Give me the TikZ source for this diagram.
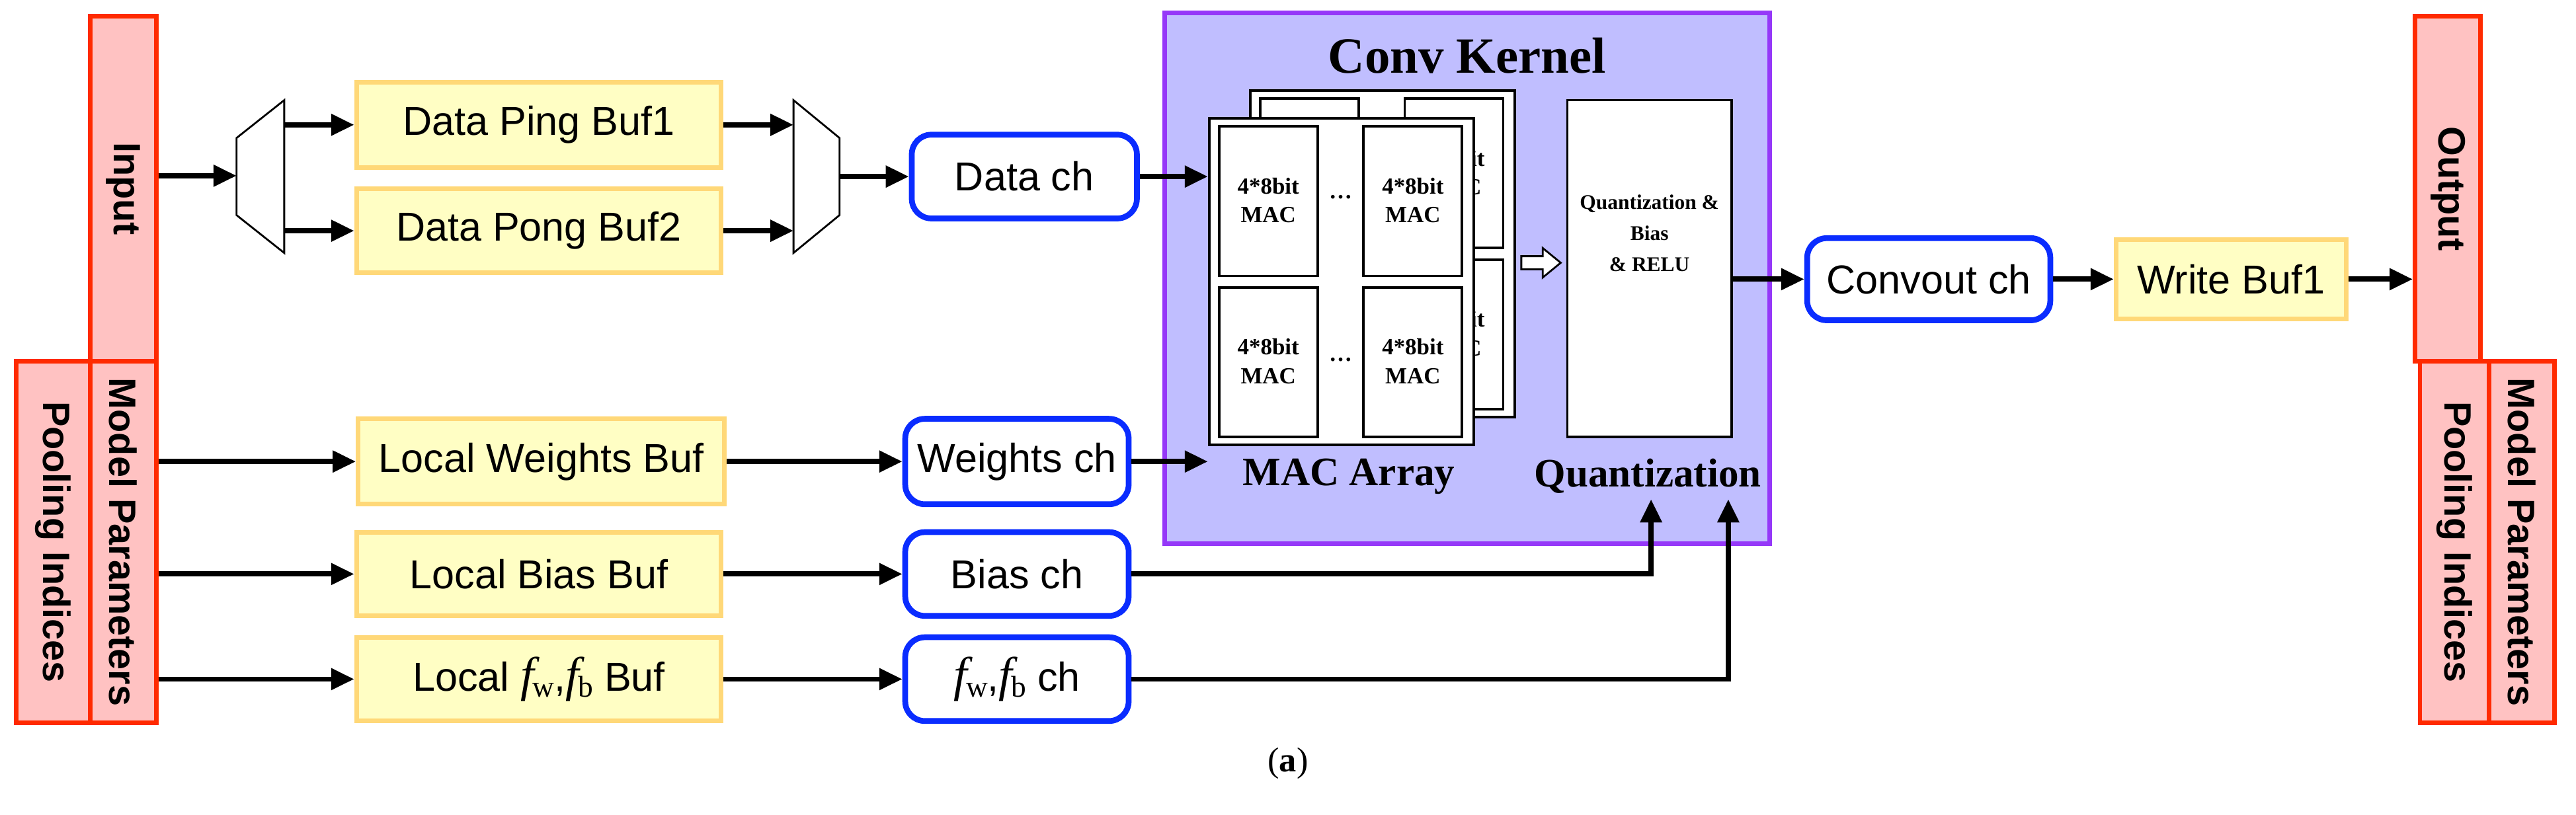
\documentclass[tikz,border=0pt]{standalone}
\usepackage{fontspec}
\setmainfont{Liberation Serif}
\setsansfont{Liberation Sans}
\usetikzlibrary{arrows.meta}
\definecolor{rbord}{HTML}{FF2A00}
\definecolor{rfill}{HTML}{FFC2C2}
\definecolor{yfill}{HTML}{FFFEC4}
\definecolor{ybord}{HTML}{FFD878}
\definecolor{bbord}{HTML}{0A2CFF}
\definecolor{pbord}{HTML}{9538F8}
\definecolor{pfill}{HTML}{C0BEFF}
\newcommand\ff[1]{{\rmfamily\itshape\fontsize{42}{42}\selectfont f}\kern-1pt{\rmfamily\fontsize{26}{26}\selectfont\raisebox{-5pt}{#1}}}
\tikzset{
  sidebar/.style={draw=rbord, fill=rfill, line width=4pt, inner sep=0pt},
  sidetxt/.style={rotate=-90, font=\sffamily\bfseries\fontsize{33}{36}\selectfont},
  buf/.style={draw=ybord, fill=yfill, line width=4pt, inner sep=0pt, font=\sffamily\fontsize{35}{38}\selectfont},
  chan/.style={draw=bbord, fill=white, line width=5pt, rounded corners=17pt, inner sep=0pt, font=\sffamily\fontsize{35}{38}\selectfont},
  arr/.style={line width=4.5pt, -{Triangle[length=20pt,width=18pt]}},
  cell/.style={draw, fill=white, line width=2.2pt},
  celltxt/.style={font=\bfseries\fontsize{20}{25}\selectfont, align=center},
}
\begin{document}
\begin{tikzpicture}[x=0.05cm,y=-0.05cm]
\useasboundingbox (0,0) rectangle (1568,496);
% side bars
\node[sidebar, minimum width=40*0.05cm, minimum height=210*0.05cm] (inp) at (75,115) {};
\node[sidetxt] at (inp) {Input};
\node[sidebar, minimum width=45*0.05cm, minimum height=220*0.05cm] (poolL) at (32.5,330) {};
\node[sidetxt] at (poolL) {Pooling Indices};
\node[sidebar, minimum width=40*0.05cm, minimum height=220*0.05cm] (modL) at (75,330) {};
\node[sidetxt] at (modL) {Model Parameters};
\node[sidebar, minimum width=40*0.05cm, minimum height=210*0.05cm] (outp) at (1490,115) {};
\node[sidetxt] at (outp) {Output};
\node[sidebar, minimum width=42*0.05cm, minimum height=220*0.05cm] (poolR) at (1494,330) {};
\node[sidetxt] at (poolR) {Pooling Indices};
\node[sidebar, minimum width=40*0.05cm, minimum height=220*0.05cm] (modR) at (1535,330) {};
\node[sidetxt] at (modR) {Model Parameters};
% buffers
\node[buf, minimum width=222*0.05cm, minimum height=52*0.05cm] (ping) at (328,76) {Data Ping Buf1};
\node[buf, minimum width=222*0.05cm, minimum height=51*0.05cm] (pong) at (328,140.5) {Data Pong Buf2};
\node[buf, minimum width=223*0.05cm, minimum height=52*0.05cm] (wbuf) at (329.5,281) {Local Weights Buf};
\node[buf, minimum width=222*0.05cm, minimum height=51*0.05cm] (bbuf) at (328,349.5) {Local Bias Buf};
\node[buf, minimum width=222*0.05cm, minimum height=51*0.05cm] (fbuf) at (328,413.5) {Local \ff{w},\ff{b} Buf};
\node[buf, minimum width=140*0.05cm, minimum height=48*0.05cm] (wbuf1) at (1358,170) {Write Buf1};
% channels
\node[chan, minimum width=137*0.05cm, minimum height=51*0.05cm] (datach) at (623.5,107.5) {Data ch};
\node[chan, minimum width=136*0.05cm, minimum height=52*0.05cm] (wch) at (619,281) {Weights ch};
\node[chan, minimum width=136*0.05cm, minimum height=51*0.05cm] (bch) at (619,349.5) {Bias ch};
\node[chan, minimum width=136*0.05cm, minimum height=51*0.05cm] (fch) at (619,413.5) {\ff{w},\ff{b} ch};
\node[chan, minimum width=148*0.05cm, minimum height=50*0.05cm] (convout) at (1174,170) {Convout ch};
% muxes
\draw[line width=1.6pt, fill=white] (144,84) -- (173,61) -- (173,154) -- (144,131) -- cycle;
\draw[line width=1.6pt, fill=white] (483,61) -- (511,84) -- (511,131) -- (483,154) -- cycle;
\coordinate (m1in) at (144,107);
\coordinate (m1a) at (173,76);
\coordinate (m1b) at (173,140.5);
\coordinate (m2a) at (483,76);
\coordinate (m2b) at (483,140.5);
\coordinate (m2out) at (511,107.5);
% conv kernel
\draw[draw=pbord, fill=pfill, line width=4pt] (709,8) rectangle (1077,331);
\node[font=\bfseries\fontsize{44}{48}\selectfont] at (893,34) {Conv Kernel};
% back plane
\begin{scope}[shift={(25,-17)}]
\draw[cell] (736,72) rectangle (897,271);
\foreach \x/\y in {742/77,830/77,742/175,830/175}{
  \draw[cell] (\x,\y) rectangle ++(60,91);
  \node[celltxt] at (\x+30,\y+45) {4*8bit\\MAC};
}
\end{scope}
% front plane
\node[cell, inner sep=0pt, minimum width=161*0.05cm, minimum height=199*0.05cm] (front) at (816.5,171.5) {};
\foreach \x/\y in {742/77,830/77,742/175,830/175}{
  \draw[cell] (\x,\y) rectangle ++(60,91);
  \node[celltxt] at (\x+30,\y+45) {4*8bit\\MAC};
}
\node[font=\bfseries\fontsize{20}{22}\selectfont] at (816,120) {\dots};
\node[font=\bfseries\fontsize{20}{22}\selectfont] at (816,219) {\dots};
\node[font=\bfseries\fontsize{35}{38}\selectfont] at (821,290) {MAC Array};
% quantization
\node[cell, inner sep=0pt, minimum width=100*0.05cm, minimum height=205*0.05cm] (quant) at (1004,163.5) {};
\node[font=\bfseries\fontsize{18}{27}\selectfont, align=center] at (1004,142) {Quantization \&\\Bias\\\& RELU};
\node[font=\bfseries\fontsize{35}{38}\selectfont] at (1003,290) {Quantization};
\draw[line width=1.6pt, fill=white] (926,156) -- (939,156) -- (939,151) -- (950,160) -- (939,169) -- (939,164) -- (926,164) -- cycle;
\coordinate (qin1) at (1005,304);
\coordinate (qin2) at (1052,304);
% arrows
\draw[arr] (inp.east |- m1in) -- (m1in);
\draw[arr] (m1a) -- (ping.west);
\draw[arr] (m1b) -- (pong.west);
\draw[arr] (ping.east) -- (m2a);
\draw[arr] (pong.east) -- (m2b);
\draw[arr] (m2out) -- (datach.west);
\draw[arr] (datach.east) -- (front.west |- datach.east);
\draw[arr] (modL.east |- wbuf.west) -- (wbuf.west);
\draw[arr] (modL.east |- bbuf.west) -- (bbuf.west);
\draw[arr] (modL.east |- fbuf.west) -- (fbuf.west);
\draw[arr] (wbuf.east) -- (wch.west);
\draw[arr] (bbuf.east) -- (bch.west);
\draw[arr] (fbuf.east) -- (fch.west);
\draw[arr] (wch.east) -- (front.west |- wch.east);
\draw[arr] (bch.east) -| (qin1);
\draw[arr] (fch.east) -| (qin2);
\draw[arr] (quant.east |- convout.west) -- (convout.west);
\draw[arr] (convout.east) -- (wbuf1.west);
\draw[arr] (wbuf1.east) -- (outp.west |- wbuf1.east);
% caption
\node[font=\fontsize{30}{34}\selectfont] (cap) at (784,465) {(\textbf{a})};
\end{tikzpicture}
\end{document}
